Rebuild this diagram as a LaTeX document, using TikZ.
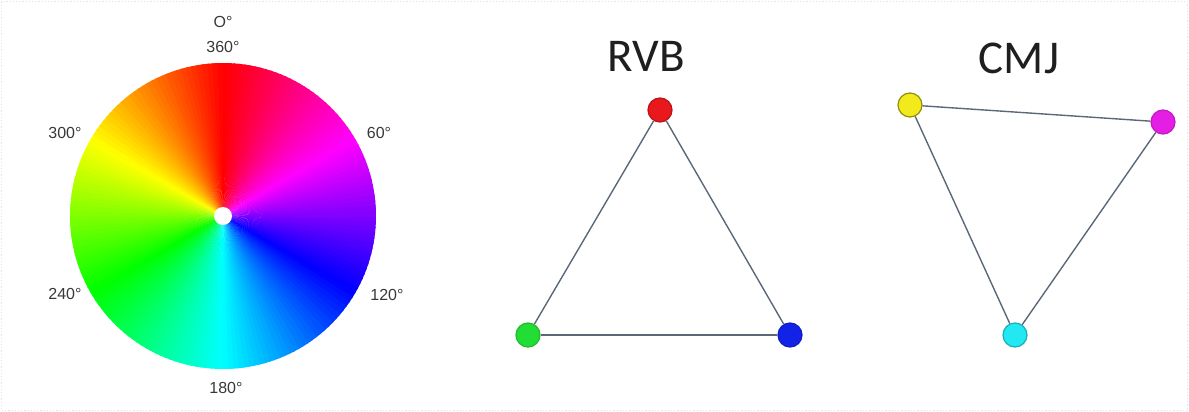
\documentclass[tikz,border=0pt]{standalone}
\usepackage{fontspec}
\setmainfont{Liberation Sans}
\newfontfamily\titlefont{Carlito}
\newfontfamily\labfont{Liberation Sans}
\usetikzlibrary{calc}
\definecolor{edgecol}{HTML}{5A6878}
\definecolor{dotred}{HTML}{E8181C}
\definecolor{dotgreen}{HTML}{22DD33}
\definecolor{dotblue}{HTML}{1222E6}
\definecolor{dotyellow}{HTML}{F2EA1A}
\definecolor{dotmagenta}{HTML}{E41EE4}
\definecolor{dotcyan}{HTML}{22E8F2}
\tikzset{
  lab/.style={font=\labfont\fontsize{16}{18}\selectfont, text=black!78, inner sep=0},
  ttl/.style={font=\titlefont\fontsize{47}{50}\selectfont, text=black!88, inner sep=0, anchor=base},
  colordot/.style={circle, minimum size=24, inner sep=0, line width=1.2},
  edge/.style={draw=edgecol, line width=1.4}
}
\begin{document}
\begin{tikzpicture}[x=1pt,y=-1pt]
\useasboundingbox (0,0) rectangle (1189,412);
\draw[gray!22, dotted, line width=1.2] (1.5,1.5) rectangle (1187.5,410.5);
% colour wheel
\coordinate (wc) at (223,216);
\foreach \a in {0,2,...,358}{
  \pgfmathsetmacro\h{mod(270-\a-1+720,360)}
  \definecolor{wedgecol}{Hsb}{\h,1,1}
  \fill[wedgecol] (wc) -- ++(\a:153) arc[start angle=\a, end angle=\a+2.6, radius=153] -- cycle;
}
\fill[white] (wc) circle[radius=9];
\node[lab] (l0) at (223,22) {O°};
\node[lab] (l360) at (223,47) {360°};
\node[lab] (l60) at (379,133) {60°};
\node[lab] (l120) at (387,295) {120°};
\node[lab] (l180) at (226,388) {180°};
\node[lab] (l240) at (65,294) {240°};
\node[lab] (l300) at (65,133) {300°};
% RVB
\node[ttl] (rvb) at (646,72) {RVB};
\node[colordot, fill=dotred, draw=dotred!80!black] (r) at (660,110) {};
\node[colordot, fill=dotgreen, draw=dotgreen!85!black] (g) at (528,335) {};
\node[colordot, fill=dotblue, draw=dotblue!85!black] (b) at (790,335) {};
\draw[edge] (r) -- (g);
\draw[edge] (g) -- (b);
\draw[edge] (b) -- (r);
% CMJ
\node[ttl] (cmj) at (1019,74) {CMJ};
\node[colordot, fill=dotyellow, draw=dotyellow!60!black] (y) at (910,105) {};
\node[colordot, fill=dotmagenta, draw=dotmagenta!85!black] (m) at (1163,122) {};
\node[colordot, fill=dotcyan, draw=dotcyan!75!black] (c) at (1015,335) {};
\draw[edge] (y) -- (m);
\draw[edge] (m) -- (c);
\draw[edge] (c) -- (y);
\end{tikzpicture}
\end{document}
